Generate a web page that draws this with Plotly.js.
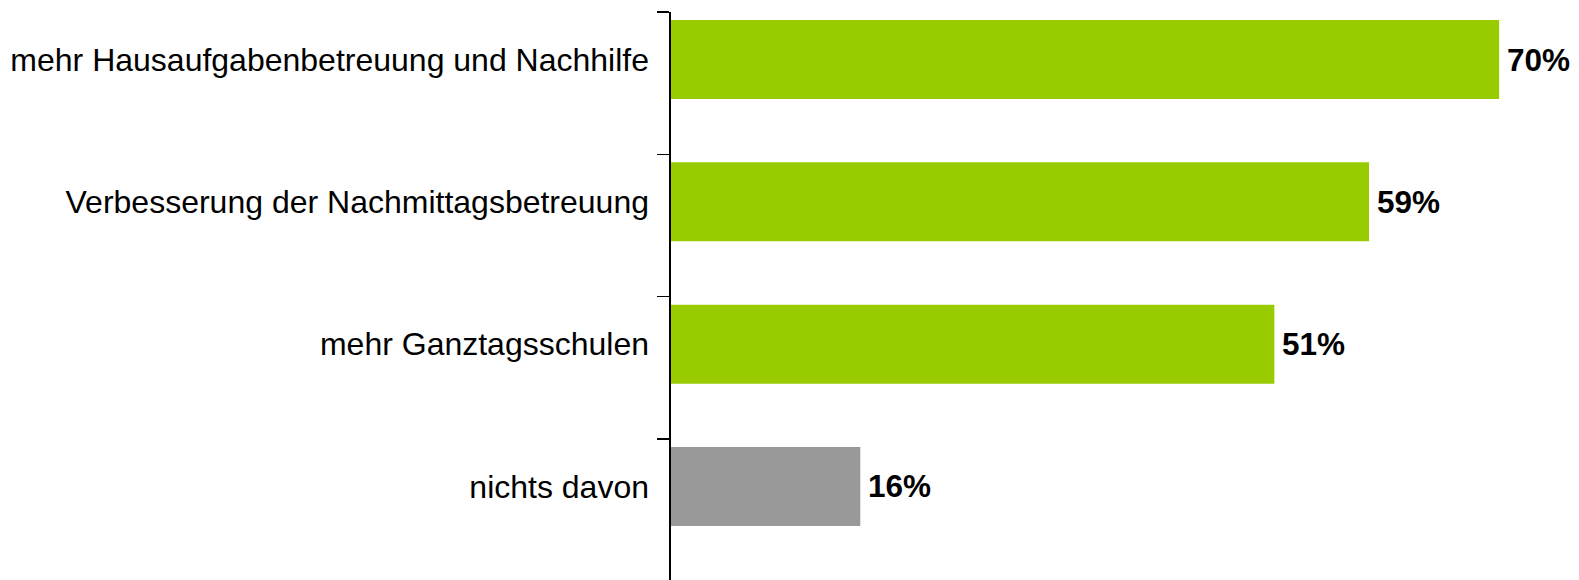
<!DOCTYPE html>
<html><head><meta charset="utf-8">
<script src="https://cdn.plot.ly/plotly-3.0.1.min.js"></script>
<style>html,body{margin:0;padding:0;background:#fff;}</style>
</head><body><div id="chart" style="width:1579px;height:580px;"></div>
<script>
const categories = ["mehr Hausaufgabenbetreuung und Nachhilfe","Verbesserung der Nachmittagsbetreuung","mehr Ganztagsschulen","nichts davon"];
const values = [70, 59, 51, 16];
const labels = ["70%","59%","51%","16%"];
const colors = ["#99CC00","#99CC00","#99CC00","#999999"];

const pos = categories.map((c, i) => i);
const tickOffset = 0.3337;
const bandTop = -tickOffset;
const bandBottom = bandTop + 568 / 142.33;

const trace = {
  type: "bar", orientation: "h",
  y: pos, x: values, width: 0.555,
  marker: {color: colors, line: {width: 0}},
  hoverinfo: "none"
};
const labelTrace = {
  type: "scatter", mode: "markers", x: values.map(() => 0), y: pos,
  yaxis: "y2", marker: {opacity: 0}, hoverinfo: "none"
};
const annotations = pos.map((p, i) => ({
  x: values[i], y: p, xref: "x", yref: "y",
  text: "<b>" + labels[i] + "</b>", showarrow: false,
  xanchor: "left", xshift: 6,
  font: {family: "Liberation Sans, Arial, sans-serif", size: 31.5, color: "#000"}
}));
const layout = {
  width: 1579, height: 580,
  margin: {l: 671, r: 0, t: 12, b: 0},
  paper_bgcolor: "#fff", plot_bgcolor: "#fff",
  showlegend: false,
  font: {family: "Liberation Sans, Arial, sans-serif", size: 32, color: "#000"},
  xaxis: {range: [0, 76.75], visible: false, fixedrange: true},
  yaxis: {
    range: [bandBottom, bandTop],
    showline: true, linecolor: "#000", linewidth: 2,
    ticks: "outside", ticklen: 12, tickwidth: 1.5, tickcolor: "#000",
    tickvals: pos.map(p => p - tickOffset), ticktext: pos.map(() => ""),
    showgrid: false, zeroline: false
  },
  yaxis2: {
    overlaying: "y", side: "left", range: [bandBottom, bandTop],
    showline: false, ticks: "", showgrid: false, zeroline: false,
    tickvals: pos, ticktext: categories,
    ticklabelstandoff: 21,
    tickfont: {size: 32}
  },
  annotations: annotations
};
Plotly.newPlot("chart", [trace, labelTrace], layout, {displayModeBar: false, staticPlot: true});
</script></body></html>
